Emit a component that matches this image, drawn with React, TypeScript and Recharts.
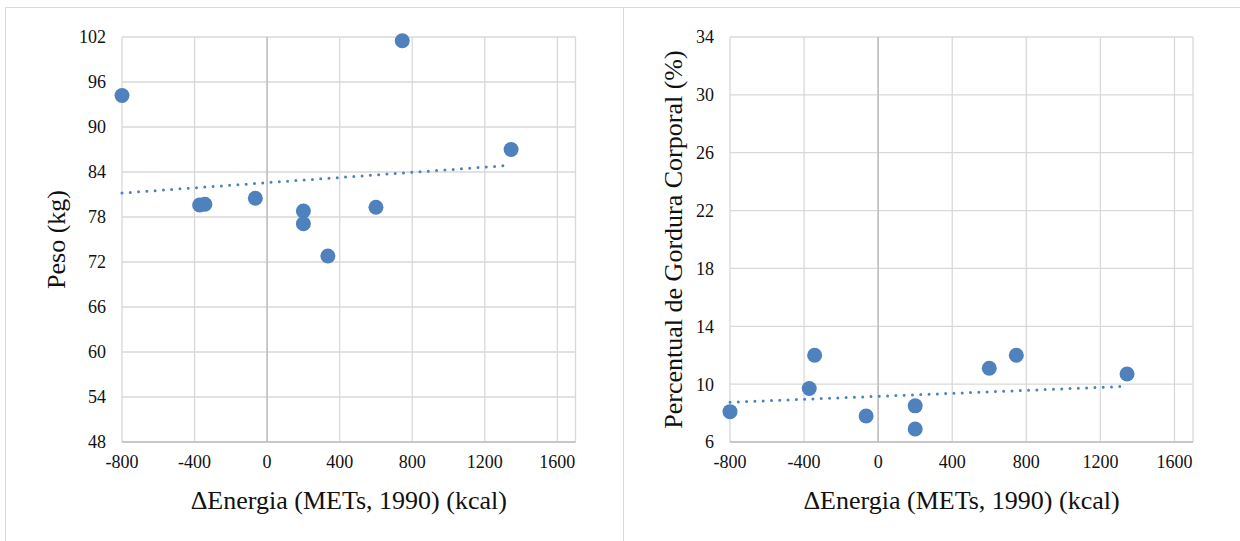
import {
  CartesianGrid,
  Label,
  ReferenceLine,
  Scatter,
  ScatterChart,
  XAxis,
  YAxis,
} from "recharts";

const xTicks = [-800, -400, 0, 400, 800, 1200, 1600];
const pesoTicks = [48, 54, 60, 66, 72, 78, 84, 90, 96, 102];
const gorduraTicks = [6, 10, 14, 18, 22, 26, 30, 34];

// ΔEnergia vs Peso
const energiaPeso = [-800, 745, 1345, -372, -343, -65, 200, 200, 335, 600];
const peso = [94.2, 101.5, 87.0, 79.6, 79.7, 80.5, 78.8, 77.1, 72.8, 79.3];

// ΔEnergia vs % gordura
const energiaGordura = [-800, -372, -343, -65, 200, 200, 600, 746, 1344];
const gordura = [8.1, 9.7, 12.0, 7.8, 8.5, 6.9, 11.1, 12.0, 10.7];

// linear trend endpoints
const trendX = [-800, 1345];
const trendPeso = [81.2, 84.9];
const trendGordura = [8.75, 9.85];

const BLUE = "#4f81bd";
const FONT = "Liberation Serif, DejaVu Serif, serif";
const W = 620;
const H = 541;

const toPoints = (xs: number[], ys: number[]) =>
  xs.map((x, i) => ({ x, y: ys[i] }));

type PanelProps = {
  left: number;
  xs: number[];
  ys: number[];
  trend: number[];
  yTicks: number[];
  yLabel: string;
  plotLeft: number;
  plotRight: number;
  labelX: number;
};

function Panel({ left, xs, ys, trend, yTicks, yLabel, plotLeft, plotRight, labelX }: PanelProps) {
  const points = toPoints(xs, ys);
  const trendPoints = toPoints(trendX, trend);
  const tick = { fontSize: 18, fill: "#111", fontFamily: FONT, style: { fontFamily: FONT } };
  return (
    <div style={{ position: "absolute", left, top: 0, fontFamily: FONT }}>
      <ScatterChart
        width={W}
        height={H}
        margin={{ top: 37, right: W - plotRight, bottom: 0, left: 0 }}
        style={{ fontFamily: FONT }}
      >
        <CartesianGrid stroke="#d9d9d9" strokeWidth={1.3} />
        <XAxis
          type="number"
          dataKey="x"
          domain={[-800, 1700]}
          ticks={xTicks}
          height={99}
          tickLine={false}
          tickSize={6}
          tickMargin={7}
          axisLine={{ stroke: "#bfbfbf", strokeWidth: 1.5 }}
          tick={tick}
          interval={0}
        >
          <Label
            value="ΔEnergia (METs, 1990) (kcal)"
            position="insideBottom"
            offset={32}
            style={{ fontSize: 26, fill: "#111", fontFamily: FONT }}
          />
        </XAxis>
        <YAxis
          type="number"
          dataKey="y"
          domain={[yTicks[0], yTicks[yTicks.length - 1]]}
          ticks={yTicks}
          width={plotLeft}
          tickLine={false}
          axisLine={false}
          tickSize={6}
          tickMargin={10}
          tick={tick}
          interval={0}
        >
          <Label
            value={yLabel}
            angle={-90}
            position="insideLeft"
            offset={labelX}
            style={{ fontSize: 26, fill: "#111", fontFamily: FONT, textAnchor: "middle" }}
          />
        </YAxis>
        <ReferenceLine x={0} stroke="#bfbfbf" strokeWidth={1.5} />
        <Scatter
          data={trendPoints}
          isAnimationActive={false}
          fill={BLUE}
          line={{
            stroke: BLUE,
            strokeWidth: 3,
            strokeDasharray: "0 8.3",
            strokeLinecap: "round",
          }}
          shape={() => <g />}
        />
        <Scatter
          data={points}
          isAnimationActive={false}
          fill={BLUE}
          shape={(p: any) => <circle cx={p.cx} cy={p.cy} r={7.5} fill={BLUE} />}
        />
      </ScatterChart>
    </div>
  );
}

export default function App() {
  return (
    <div
      style={{
        position: "absolute",
        left: 0,
        top: 0,
        width: 1240,
        height: 541,
        background: "#fff",
        overflow: "hidden",
      }}
    >
      <div
        style={{
          position: "absolute",
          left: 5,
          top: 7,
          width: 1300,
          height: 600,
          borderTop: "1px solid #d9d9d9",
          borderLeft: "1px solid #d9d9d9",
        }}
      />
      <div
        style={{
          position: "absolute",
          left: 623,
          top: 7,
          width: 1,
          height: 600,
          background: "#d9d9d9",
        }}
      />
      <Panel
        left={0}
        xs={energiaPeso}
        ys={peso}
        trend={trendPeso}
        yTicks={pesoTicks}
        yLabel="Peso (kg)"
        plotLeft={122}
        plotRight={575.5}
        labelX={56}
      />
      <Panel
        left={620}
        xs={energiaGordura}
        ys={gordura}
        trend={trendGordura}
        yTicks={gorduraTicks}
        yLabel="Percentual de Gordura Corporal (%)"
        plotLeft={110}
        plotRight={573}
        labelX={53}
      />
    </div>
  );
}
